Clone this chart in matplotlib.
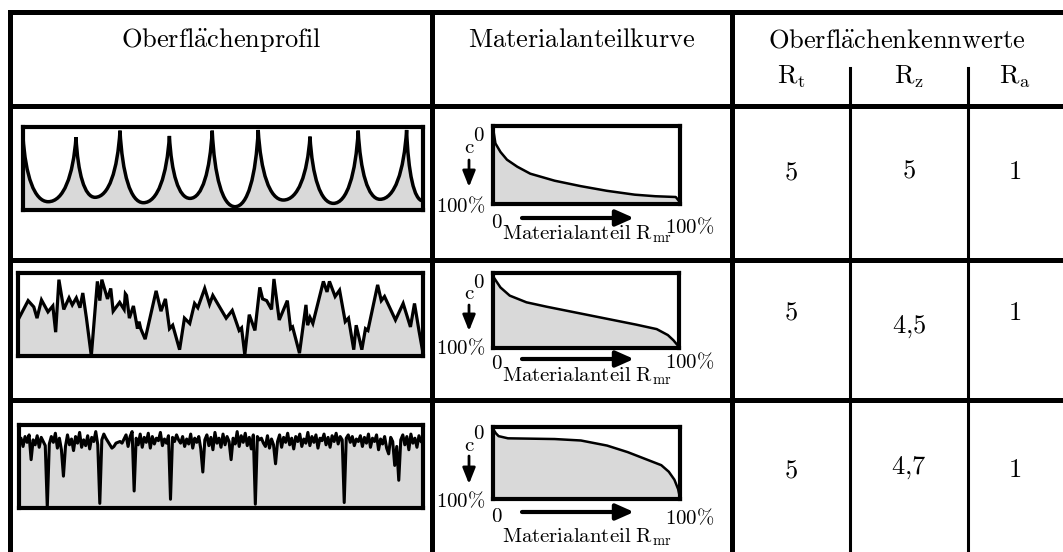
import numpy as np
import matplotlib
matplotlib.use("Agg")
import matplotlib.pyplot as plt
from matplotlib.path import Path
from matplotlib.patches import PathPatch

plt.rcParams["mathtext.fontset"] = "cm"

W, H = 1063, 552
FILL = "#d9d9d9"

# table headers and surface parameters
headers = [r"$\mathrm{Oberfl\ddot{a}chenprofil}$",
           r"$\mathrm{Materialanteilkurve}$",
           r"$\mathrm{Oberfl\ddot{a}chenkennwerte}$"]
param_names = [r"$\mathrm{R_t}$", r"$\mathrm{R_z}$", r"$\mathrm{R_a}$"]
rt_values = ["5", "5", "5"]
rz_values = ["5", "4{,}5", "4{,}7"]
ra_values = ["1", "1", "1"]

# profile 1: regular cusps (position in % of length, height in % of Rt)
cusp_peak_x = [0.0, 13.25, 24.25, 36.6, 47.3, 58.8, 71.75, 83.8, 95.9]
cusp_peak_h = [88.4, 87.6, 95.6, 89.2, 95.6, 96.4, 88.4, 95.6, 96.4]
cusp_valley_x = [6.3, 18.0, 30.1, 41.75, 53.0, 65.1, 77.6, 89.25, 100.0]
cusp_valley_h = [10.0, 15.3, 8.8, 14.0, 4.0, 12.0, 8.0, 12.9, 11.0]

# profile 2: irregular saw-tooth profile
rough_x = [0, 2.5, 3.9, 4.7, 5.8, 7.4, 8.6, 9.3, 10.1, 11.3, 12.6, 13.4, 14.4,
           15.3, 16.0, 16.9, 18.1, 19.6, 20.2, 20.7, 22.1, 22.9, 23.5, 25.1,
           26.2, 26.5, 26.8, 27.5, 28.5, 29.5, 29.9, 30.3, 31.4, 34.1, 35.3,
           36.4, 37.4, 38.2, 39.9, 41.1, 42.4, 43.6, 44.4, 46.1, 47.3, 48.1,
           51.4, 52.9, 54.6, 55.2, 56.0, 57.1, 58.5, 59.7, 60.4, 61.4, 62.6,
           63.2, 64.5, 66.5, 67.3, 67.8, 69.5, 71.1, 71.5, 72.1, 72.8, 75.4,
           76.3, 76.9, 78.3, 79.4, 80.8, 81.6, 82.9, 83.5, 84.9, 85.8, 86.4,
           88.8, 89.7, 90.5, 93.2, 95.1, 96.9, 97.9, 99.0, 100]
rough_h = [43.4, 66.7, 59.1, 45.6, 67.5, 53.2, 60.3, 28.7, 92, 56.1, 70, 61.6,
           70, 58.2, 75.9, 45.6, 0, 89.9, 66.7, 92, 68.8, 81.4, 54, 64.6, 56.1,
           75, 73, 45.6, 60.3, 32.9, 41.4, 32.9, 20.3, 78.5, 54, 68.8, 32.9,
           37.1, 7.6, 45.6, 39.2, 63.3, 58.2, 81.4, 62.4, 73, 45.6, 54.9, 30.8,
           33.8, 1.3, 49.8, 30.8, 82.7, 68.8, 66.7, 56.1, 92.8, 43.4, 66.7,
           32.9, 35, 3.4, 61.6, 37.1, 46.4, 39.2, 89.9, 77.2, 89.9, 71.7, 79.3,
           41.4, 45.6, 7.6, 37.1, 7.6, 32.9, 30.8, 85.7, 66.7, 71.7, 43.4, 63.3,
           35, 63.3, 30.8, 3.4]

# profile 3: fine plateau roughness with deep grooves, sampled every 0.5 %
plateau_h = [78, 84, 74, 86, 79, 88, 58, 82, 76, 87,
             73, 85, 80, 75, 0, 77, 86, 79, 90, 72,
             84, 70, 38, 74, 88, 76, 83, 69, 86, 78,
             91, 73, 82, 75, 87, 71, 85, 80, 92, 76,
             5, 82, 89, 84, 80, 76, 72, 74, 78, 79,
             80, 78, 83, 88, 74, 86, 92, 20, 84, 76,
             89, 73, 85, 79, 90, 72, 86, 77, 84, 81,
             91, 75, 83, 78, 87, 10, 85, 80, 88, 82,
             78, 86, 74, 83, 77, 89, 72, 84, 79, 86,
             71, 43, 82, 88, 75, 85, 70, 91, 78, 84,
             73, 89, 76, 86, 80, 58, 84, 77, 92, 74,
             87, 79, 90, 75, 85, 71, 88, 4, 86, 82,
             84, 78, 74, 87, 72, 83, 76, 53, 80, 88,
             73, 85, 79, 90, 76, 84, 71, 86, 80, 89,
             74, 83, 78, 91, 75, 86, 79, 88, 72, 84,
             81, 89, 76, 85, 73, 87, 80, 90, 77, 86,
             82, 6, 84, 88, 79, 86, 75, 83, 80, 87,
             74, 85, 78, 89, 73, 84, 80, 88, 70, 83,
             77, 86, 72, 65, 85, 80, 51, 74, 33, 82,
             88, 76, 86, 70, 89, 78, 84, 73, 87, 80,
             78]

# material ratio curves (Rmr in %, cut depth c in %)
abbott1_mr = [0, 1.3, 4, 7.5, 13, 20, 33, 47, 61, 76, 87, 98, 100]
abbott1_c = [2, 22, 33, 43, 52, 61, 70, 77, 83, 88, 90, 91, 97]
abbott2_mr = [0, 4, 9, 18, 29, 41, 59, 77, 88, 94, 97, 100]
abbott2_c = [4, 19, 30, 39, 45, 51, 60, 69, 75, 83, 90, 99]
abbott3_mr = [0, 1.5, 3, 8, 33, 47, 61, 72, 82, 90, 94, 97, 99, 100]
abbott3_c = [3, 9, 13, 16, 17, 19, 26, 35, 45, 53, 62, 73, 86, 98]


def px_axes(left, top, right, bottom):
    ax = fig.add_axes([left / W, 1 - bottom / H, (right - left) / W,
                       (bottom - top) / H])
    ax.set_xticks([])
    ax.set_yticks([])
    for s in ax.spines.values():
        s.set_linewidth(3.0)
        s.set_zorder(5)
    return ax


def arch_controls(px, ph, vx, vh):
    # cubic control points for the flank running from a peak down to a valley
    c1 = (px + 0.10 * (vx - px), vh + 0.40 * (ph - vh))
    c2 = (px + 0.45 * (vx - px), vh)
    return c1, c2


def cusp_path(closed):
    verts = [(cusp_peak_x[0], cusp_peak_h[0])]
    codes = [Path.MOVETO]
    for i in range(len(cusp_valley_x)):
        p = (cusp_peak_x[i], cusp_peak_h[i])
        v = (cusp_valley_x[i], cusp_valley_h[i])
        c1, c2 = arch_controls(*p, *v)
        verts += [c1, c2, v]
        codes += [Path.CURVE4] * 3
        if i + 1 < len(cusp_peak_x):
            q = (cusp_peak_x[i + 1], cusp_peak_h[i + 1])
            d1, d2 = arch_controls(*q, *v)
            verts += [d2, d1, q]
            codes += [Path.CURVE4] * 3
    if closed:
        verts += [(100, 0), (0, 0), (0, 0)]
        codes += [Path.LINETO, Path.LINETO, Path.CLOSEPOLY]
    return Path(verts, codes)


fig = plt.figure(figsize=(W / 100, H / 100), dpi=100)
grid = fig.add_axes([0, 0, 1, 1])
grid.set_xlim(0, W)
grid.set_ylim(H, 0)
grid.axis("off")

# table frame
thick = dict(color="black", lw=3.6, solid_capstyle="projecting")
thin = dict(color="black", lw=2.2)
grid.plot([10, W], [12, 12], **thick)
for y in [105.5, 260, 399.5]:
    grid.plot([10, W], [y, y], **thick)
for x in [10, 432, 732]:
    grid.plot([x, x], [12, H], **thick)
for x in [850, 968]:
    grid.plot([x, x], [68, H], **thin)

# headers
hdr = dict(fontsize=19, ha="center", va="center")
grid.text(221, 40, headers[0], **hdr)
grid.text(582, 40, headers[1], **hdr)
grid.text(897, 40, headers[2], **hdr)
for x, name in zip([791, 909, 1015], param_names):
    grid.text(x, 77, name, **hdr)

# parameter values
value_y = [(172, 170, 172), (313, 327, 313), (470, 468, 470)]
for row in range(3):
    for x, vals, y in zip([791, 909, 1015],
                          [rt_values, rz_values, ra_values], value_y[row]):
        grid.text(x, y, "$" + vals[row] + "$", **hdr)

# profile panels
ax = px_axes(23, 127, 423, 210)
ax.set_xlim(0, 100)
ax.set_ylim(0, 100)
ax.add_patch(PathPatch(cusp_path(True), facecolor=FILL, edgecolor="none"))
ax.add_patch(PathPatch(cusp_path(False), facecolor="none", edgecolor="black",
                       lw=2.5))

ax = px_axes(18, 273, 423, 356)
ax.set_xlim(0, 100)
ax.set_ylim(0, 100)
ax.fill_between(rough_x, rough_h, 0, color=FILL, lw=0)
ax.plot(rough_x, rough_h, color="black", lw=2.3, solid_joinstyle="miter")

ax = px_axes(19, 425, 423, 507.5)
plateau_x = np.arange(len(plateau_h)) * 0.5
ax.set_xlim(0, 100)
ax.set_ylim(0, 100)
ax.fill_between(plateau_x, plateau_h, 0, color=FILL, lw=0)
ax.plot(plateau_x, plateau_h, color="black", lw=2.2)

# material ratio panels
curves = [(abbott1_mr, abbott1_c), (abbott2_mr, abbott2_c),
          (abbott3_mr, abbott3_c)]
boxes = [(493, 126.3, 679.5, 204), (493, 273.3, 679, 347.7),
         (493, 426.7, 680, 499.3)]
# label rows: top 0, c, arrow start, arrow end, left 100%, bottom 0 / arrow,
# right 100%, axis title
label_y = [(135, 147, 160, 187, 206, 218, 227, 234),
           (282, 293, 305, 331, 348, 359, 362, 376),
           (433, 445, 456, 484, 501, 512, 518, 537)]
lab = dict(fontsize=15, ha="center", va="center")
for (mr, c), (l, t, r, b), ly in zip(curves, boxes, label_y):
    ax = px_axes(l, t, r, b)
    ax.set_xlim(0, 100)
    ax.set_ylim(100, 0)
    ax.fill_between(mr, c, 100, color=FILL, lw=0)
    ax.plot(mr, c, color="black", lw=1.8)

    grid.text(479, ly[0], "$0$", **lab)
    grid.text(469, ly[1], r"$\mathrm{c}$", **lab)
    grid.annotate("", xy=(469, ly[3]), xytext=(469, ly[2]),
                  arrowprops=dict(arrowstyle="-|>,head_length=0.8,head_width=0.32",
                                  lw=2.0, color="black", shrinkA=0, shrinkB=0,
                                  mutation_scale=12))
    grid.text(461, ly[4], r"$100\%$", **lab)
    grid.text(497, ly[5] + 4, "$0$", **lab)
    grid.annotate("", xy=(634, ly[5]), xytext=(522, ly[5]),
                  arrowprops=dict(arrowstyle="-|>,head_length=0.9,head_width=0.4",
                                  lw=3.0, color="black", shrinkA=0, shrinkB=0,
                                  mutation_scale=12))
    grid.text(690, ly[6], r"$100\%$", **lab)
    grid.text(587, ly[7], r"$\mathrm{Materialanteil\ R_{mr}}$", **lab)

fig.savefig("out.png", dpi=100)
